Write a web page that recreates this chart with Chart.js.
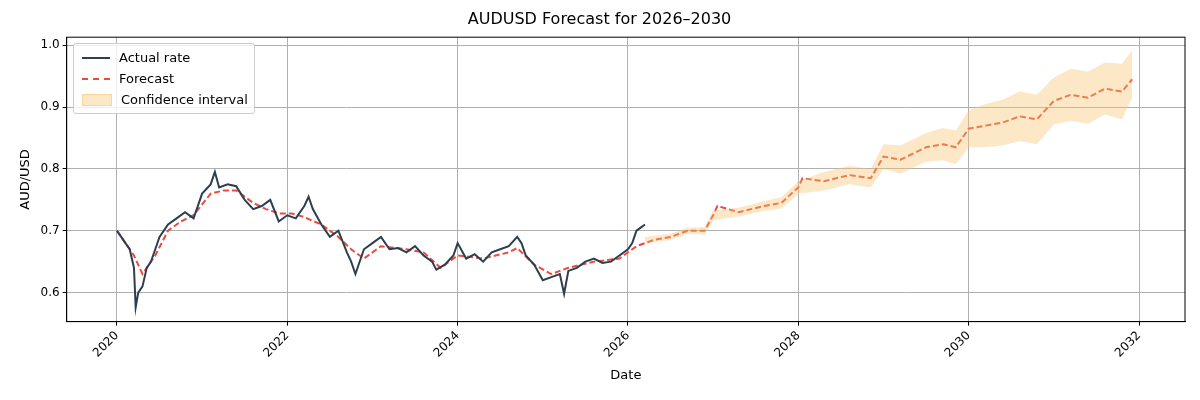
<!DOCTYPE html>
<html>
<head>
<meta charset="utf-8">
<script src="https://cdn.jsdelivr.net/npm/chart.js@4/dist/chart.umd.min.js"></script>
<style>
  body { margin: 0; background: #fff; font-family: "DejaVu Sans", sans-serif; }
  #wrap { position: relative; width: 1200px; height: 400px; }
  #legend {
    position: absolute; left: 73px; top: 43px; background: rgba(255,255,255,0.8);
    border: 1px solid #ccc; border-radius: 3px; padding: 3px 6px 3px 8px; font-size: 13px; color: #000;
  }
  #legend div { display: flex; align-items: center; height: 21px; }
  #legend .sw { width: 28px; margin-right: 9px; }
</style>
</head>
<body>
<div id="wrap">
  <canvas id="c" width="1200" height="400"></canvas>
  <div id="legend">
    <div><span class="sw" style="border-top:2px solid #2c3e50"></span>Actual rate</div>
    <div><span class="sw" style="border-top:2px dashed #e74c3c"></span>Forecast</div>
    <div><span class="sw" style="height:10px;background:rgba(248,196,113,0.4);border:1px solid rgba(248,196,113,0.5)"></span>Confidence interval</div>
  </div>
</div>
<script>
// actual rate (decimal year, value)
const actualYears = [2020.0, 2020.05, 2020.1, 2020.15, 2020.2, 2020.22, 2020.25, 2020.3, 2020.35, 2020.4, 2020.45, 2020.5, 2020.6, 2020.7, 2020.8, 2020.9, 2021.0, 2021.1, 2021.15, 2021.2, 2021.3, 2021.4, 2021.5, 2021.6, 2021.7, 2021.8, 2021.9, 2022.0, 2022.1, 2022.2, 2022.25, 2022.3, 2022.4, 2022.5, 2022.6, 2022.7, 2022.75, 2022.8, 2022.9, 2023.0, 2023.1, 2023.2, 2023.3, 2023.4, 2023.5, 2023.6, 2023.7, 2023.75, 2023.85, 2023.95, 2024.0, 2024.1, 2024.2, 2024.3, 2024.4, 2024.5, 2024.6, 2024.7, 2024.75, 2024.8, 2024.9, 2025.0, 2025.1, 2025.2, 2025.25, 2025.3, 2025.4, 2025.5, 2025.6, 2025.7, 2025.8, 2025.9, 2026.0, 2026.05, 2026.1, 2026.15, 2026.2];
const actualRate = [0.700, 0.690, 0.680, 0.670, 0.640, 0.576, 0.600, 0.610, 0.640, 0.650, 0.670, 0.690, 0.710, 0.720, 0.730, 0.720, 0.760, 0.775, 0.795, 0.770, 0.775, 0.772, 0.750, 0.735, 0.740, 0.750, 0.715, 0.725, 0.720, 0.740, 0.755, 0.735, 0.710, 0.690, 0.700, 0.665, 0.650, 0.630, 0.670, 0.680, 0.690, 0.670, 0.672, 0.665, 0.675, 0.660, 0.650, 0.637, 0.645, 0.660, 0.680, 0.655, 0.662, 0.650, 0.665, 0.670, 0.675, 0.690, 0.680, 0.660, 0.645, 0.620, 0.625, 0.630, 0.598, 0.635, 0.640, 0.650, 0.655, 0.648, 0.650, 0.660, 0.670, 0.680, 0.700, 0.705, 0.710];

// model line, in-sample fit and forecast
const forecastYears = [2020.0, 2020.1, 2020.2, 2020.3, 2020.45, 2020.6, 2020.75, 2020.9, 2021.1, 2021.25, 2021.4, 2021.6, 2021.75, 2021.9, 2022.05, 2022.2, 2022.4, 2022.6, 2022.75, 2022.9, 2023.1, 2023.4, 2023.6, 2023.8, 2024.0, 2024.3, 2024.6, 2024.7, 2024.9, 2025.1, 2025.3, 2025.6, 2025.9, 2026.1, 2026.3, 2026.5, 2026.7, 2026.9, 2027.0, 2027.05, 2027.3, 2027.6, 2027.8, 2028.0, 2028.05, 2028.3, 2028.6, 2028.85, 2029.0, 2029.2, 2029.5, 2029.7, 2029.85, 2030.0, 2030.2, 2030.4, 2030.6, 2030.8, 2031.0, 2031.2, 2031.4, 2031.6, 2031.8, 2031.92];
const forecastRate = [0.700, 0.680, 0.660, 0.630, 0.660, 0.700, 0.715, 0.725, 0.760, 0.765, 0.765, 0.745, 0.735, 0.728, 0.728, 0.722, 0.710, 0.690, 0.670, 0.655, 0.675, 0.670, 0.665, 0.640, 0.660, 0.655, 0.665, 0.672, 0.645, 0.630, 0.640, 0.650, 0.655, 0.675, 0.685, 0.690, 0.700, 0.700, 0.725, 0.740, 0.730, 0.740, 0.745, 0.770, 0.785, 0.780, 0.790, 0.785, 0.820, 0.815, 0.835, 0.840, 0.835, 0.865, 0.870, 0.875, 0.885, 0.880, 0.910, 0.920, 0.915, 0.930, 0.925, 0.945];

// confidence interval, from 2026.2
const ciYears = [2026.2, 2026.5, 2026.7, 2026.9, 2027.0, 2027.3, 2027.6, 2027.8, 2028.0, 2028.3, 2028.6, 2028.85, 2029.0, 2029.2, 2029.5, 2029.7, 2029.85, 2030.0, 2030.2, 2030.4, 2030.6, 2030.8, 2031.0, 2031.2, 2031.4, 2031.6, 2031.8, 2031.92];
const ciUpper = [0.690, 0.695, 0.705, 0.706, 0.733, 0.737, 0.748, 0.754, 0.780, 0.795, 0.805, 0.800, 0.840, 0.838, 0.858, 0.866, 0.862, 0.895, 0.905, 0.912, 0.925, 0.920, 0.948, 0.962, 0.957, 0.972, 0.970, 0.992];
const ciLower = [0.680, 0.685, 0.695, 0.694, 0.717, 0.723, 0.732, 0.736, 0.760, 0.765, 0.775, 0.770, 0.800, 0.792, 0.812, 0.814, 0.808, 0.835, 0.835, 0.838, 0.845, 0.840, 0.872, 0.878, 0.873, 0.888, 0.880, 0.915];

const yTicks = [0.6, 0.7, 0.8, 0.9, 1.0];
const xTicks = [2020, 2022, 2024, 2026, 2028, 2030, 2032];

const pts = (xs, ys) => xs.map((x, i) => ({ x, y: ys[i] }));
const F = "DejaVu Sans";

new Chart(document.getElementById("c"), {
    type: "line",
    data: {
        datasets: [
            { data: pts(ciYears, ciUpper), borderWidth: 0, pointRadius: 0, fill: "+1", backgroundColor: "rgba(248,196,113,0.4)" },
            { data: pts(ciYears, ciLower), borderWidth: 0, pointRadius: 0, fill: false },
            { data: pts(actualYears, actualRate), borderColor: "#2c3e50", borderWidth: 2, pointRadius: 0 },
            { data: pts(forecastYears, forecastRate), borderColor: "#e74c3c", borderWidth: 2, borderDash: [6, 3], pointRadius: 0 }
        ]
    },
    options: {
        responsive: false,
        animation: false,
        layout: { padding: { top: 4, right: 15, left: 14, bottom: 13 } },
        plugins: {
            legend: { display: false },
            tooltip: { enabled: false },
            title: { display: true, text: "AUDUSD Forecast for 2026–2030", color: "#000", font: { family: F, size: 16, weight: "normal" }, padding: { top: 6, bottom: 8 } }
        },
        scales: {
            x: {
                type: "linear", min: 2019.41, max: 2032.54,
                afterBuildTicks: s => { s.ticks = xTicks.map(v => ({ value: v })); },
                ticks: { color: "#000", font: { family: F, size: 12 }, maxRotation: 45, minRotation: 45, callback: v => String(v) },
                grid: { color: "#b0b0b0", drawTicks: true, tickColor: "#000", tickLength: 4 },
                border: { color: "#000" },
                title: { display: true, text: "Date", color: "#000", font: { family: F, size: 13 } }
            },
            y: {
                min: 0.553, max: 1.013,
                afterBuildTicks: s => { s.ticks = yTicks.map(v => ({ value: v })); },
                ticks: { color: "#000", font: { family: F, size: 12 }, callback: v => v.toFixed(1) },
                grid: { color: "#b0b0b0", tickColor: "#000", tickLength: 4 },
                border: { color: "#000" },
                title: { display: true, text: "AUD/USD", color: "#000", font: { family: F, size: 13 } }
            }
        }
    },
    plugins: [{
        id: "frame",
        afterDraw(c) {
            const a = c.chartArea, ctx = c.ctx;
            ctx.save(); ctx.strokeStyle = "#000"; ctx.lineWidth = 1;
            ctx.strokeRect(a.left, a.top, a.right - a.left, a.bottom - a.top);
            ctx.restore();
        }
    }]
});
</script>
</body>
</html>
